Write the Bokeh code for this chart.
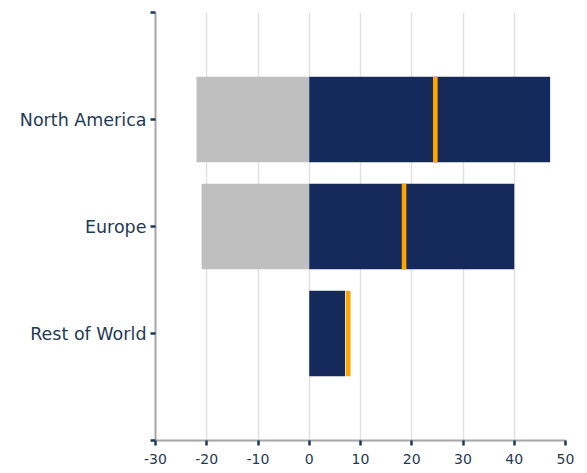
from bokeh.plotting import figure
from bokeh.models import Range1d, FixedTicker
from bokeh.embed import file_html
from bokeh.resources import INLINE

regions = ["North America", "Europe", "Rest of World"]
negative = [-22, -21, 0]
positive = [47, 40, 7]
marker = [24.6, 18.5, 7.6]
x_ticks = [-30, -20, -10, 0, 10, 20, 30, 40, 50]

y_pos = [i + 1 for i in range(len(regions))]
marker_half = 0.45

p = figure(width=587, height=473, output_backend="svg", toolbar_location=None,
           x_range=Range1d(-30, 50), y_range=Range1d(len(regions) + 1, 0),
           min_border_left=155, min_border_right=22, min_border_top=12, min_border_bottom=33)
p.outline_line_color = None

p.hbar(y=y_pos, left=negative, right=[0] * len(regions), height=0.8, fill_color="#bfbfbf", line_color=None)
p.hbar(y=y_pos, left=[0] * len(regions), right=positive, height=0.8, fill_color="#16295b", line_color=None)
p.hbar(y=y_pos, left=[m - marker_half for m in marker], right=[m + marker_half for m in marker],
       height=0.8, fill_color="#ffa500", line_color=None)

p.xaxis.ticker = FixedTicker(ticks=x_ticks)
p.xaxis.major_label_overrides = {t: str(t) for t in x_ticks}
p.yaxis.ticker = FixedTicker(ticks=list(range(0, len(regions) + 2)))
overrides = {0: "", len(regions) + 1: ""}
for y, r in zip(y_pos, regions):
    overrides[y] = r
p.yaxis.major_label_overrides = overrides

for ax in (p.xaxis, p.yaxis):
    ax.axis_line_color = "#a6a6a6"
    ax.axis_line_width = 2
    ax.major_tick_line_color = "#1c3a58"
    ax.major_tick_line_width = 2.5
    ax.major_tick_out = 5
    ax.major_tick_in = 0
    ax.minor_tick_line_color = None
    ax.major_label_text_color = "#1f3a55"
    ax.major_label_text_font = "DejaVu Sans"
    ax.major_label_standoff = 4

p.yaxis.major_label_text_font_size = "17.5px"
p.xaxis.major_label_text_font_size = "14px"
p.xaxis.major_label_standoff = 8

p.ygrid.grid_line_color = None
p.xgrid.grid_line_color = "#e0e0e0"
p.xgrid.grid_line_width = 1.5

open("out.html", "w").write(file_html(p, INLINE))
